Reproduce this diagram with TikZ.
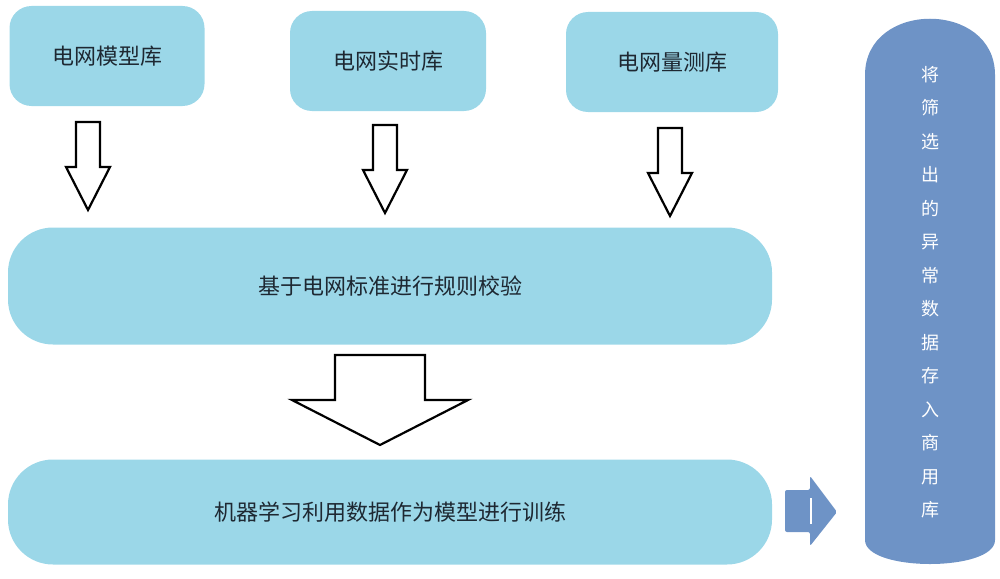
\documentclass[tikz,border=0pt]{standalone}
\usepackage{fontspec}
\newfontfamily\cjk{Noto Sans CJK SC}
\definecolor{boxblue}{RGB}{155,215,232}
\definecolor{darkblue}{RGB}{110,147,198}
\definecolor{txt}{RGB}{30,40,50}
\tikzset{
  libbox/.style={fill=boxblue, rounded corners=22pt, minimum height=100pt, text=txt, font=\cjk\fontsize{22pt}{26pt}\selectfont},
  stagebox/.style={fill=boxblue, rounded corners=45pt, minimum width=764pt, text=txt, font=\cjk\fontsize{22pt}{26pt}\selectfont},
  hollow/.style={draw=black, line width=2.2pt, fill=white, line join=miter}
}
\begin{document}
\begin{tikzpicture}[x=1pt,y=-1pt]
\useasboundingbox (0,0) rectangle (1000,578);

% library boxes
\node[libbox, minimum width=195pt] (model) at (107,56) {电网模型库};
\node[libbox, minimum width=196pt] (realtime) at (388,61) {电网实时库};
\node[libbox, minimum width=212pt] (measure) at (672,62) {电网量测库};

% stages
\node[stagebox, minimum height=117pt] (check) at (390,286) {基于电网标准进行规则校验};
\node[stagebox, minimum height=105pt] (train) at (390,512) {机器学习利用数据作为模型进行训练};

% result column
\fill[darkblue] (865,75) .. controls (865,0) and (995,0) .. (995,75)
  -- (995,540) .. controls (995,572) and (865,572) .. (865,540) -- cycle;
\node[text=white, font=\cjk\fontsize{18pt}{33.5pt}\selectfont, align=center] (store) at (930,292)
  {将\\筛\\选\\出\\的\\异\\常\\数\\据\\存\\入\\商\\用\\库};

% hollow arrows
\foreach \cx/\top in {88/122, 385/125, 670/128}
  \draw[hollow] (\cx-12,\top) -- (\cx+12,\top) -- (\cx+12,\top+45) -- (\cx+22,\top+45)
    -- (\cx,\top+88) -- (\cx-22,\top+45) -- (\cx-12,\top+45) -- cycle;
\draw[hollow] (335,355) -- (425,355) -- (425,400) -- (468,400) -- (380,445)
  -- (292,400) -- (335,400) -- cycle;

% arrow to result
\fill[darkblue, rounded corners=2pt] (785,490) -- (810,490) -- (810,476) -- (837,512)
  -- (810,546) -- (810,532) -- (785,532) -- cycle;
\draw[white, line width=1.2pt] (811,498) -- (811,524);
\end{tikzpicture}
\end{document}
